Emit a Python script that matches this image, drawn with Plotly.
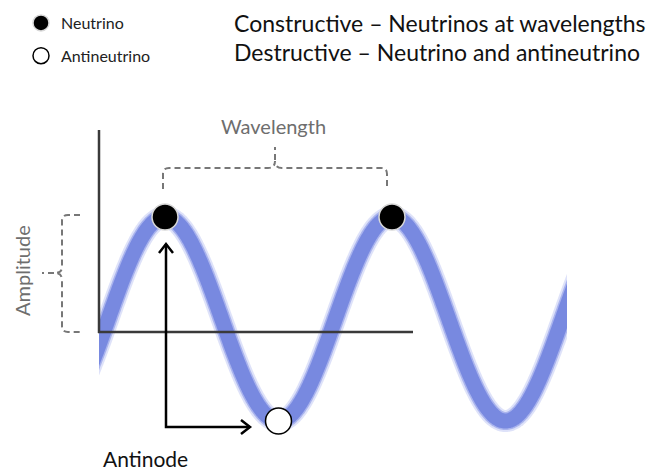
import numpy as np
import plotly.graph_objects as go

# ---------------- data (phase in radians, displacement in amplitude units)
amplitude = 1.0
wave_phase = np.linspace(-0.8, 13.4, 700)
wave_disp = amplitude * np.sin(wave_phase)
neutrino_phase = [np.pi / 2, 5 * np.pi / 2]
antineutrino_phase = [3 * np.pi / 2]
neutrino_disp = [amplitude * np.sin(p) for p in neutrino_phase]
antineutrino_disp = [amplitude * np.sin(p) for p in antineutrino_phase]
legend_labels = ["Neutrino", "Antineutrino"]
header_lines = ["Constructive – Neutrinos at wavelengths",
                "Destructive – Neutrino and antineutrino"]
label_wavelength = "Wavelength"
label_amplitude = "Amplitude"
label_antinode = "Antinode"

# ---------------- layout geometry (canvas pixels)
W, H = 654, 470
PEAK_PX, LAMBDA_PX = 165, 227
MID_PY, AMP_PX = 319, 102
WAVE_LEFT, WAVE_RIGHT = 99, 567


def phase_at(px):
    return np.pi / 2 + (px - PEAK_PX) * 2 * np.pi / LAMBDA_PX


def disp_at(py):
    return (MID_PY - py) / AMP_PX


def path(*segments):
    out = []
    for seg in segments:
        cmd, pts = seg[0], seg[1:]
        out.append(cmd + " " + " ".join(f"{x},{y}" for x, y in pts))
    return " ".join(out)


fig = go.Figure()

# blurred thick wave
for width, color in [(22, "rgba(160,172,238,0.35)"),
                     (18, "rgba(135,150,230,0.6)"),
                     (15, "rgb(120,137,224)")]:
    fig.add_trace(go.Scatter(x=wave_phase, y=wave_disp, mode="lines",
                             line=dict(color=color, width=width, shape="spline"),
                             xaxis="x2", yaxis="y2", hoverinfo="skip",
                             showlegend=False))

fig.add_trace(go.Scatter(x=neutrino_phase, y=neutrino_disp, mode="markers",
                         name=legend_labels[0], legendgroup="n",
                         marker=dict(size=26, color="black",
                                     line=dict(color="#d8d8d8", width=1.5)),
                         xaxis="x2", yaxis="y2"))
fig.add_trace(go.Scatter(x=antineutrino_phase, y=antineutrino_disp, mode="markers",
                         name=legend_labels[1], legendgroup="a",
                         marker=dict(size=26, color="white",
                                     line=dict(color="black", width=1.5)),
                         xaxis="x2", yaxis="y2"))

axis_col = "#3a3a3a"
gray = "#777777"
shapes = [
    # diagram axes
    dict(type="line", x0=99, y0=130, x1=99, y1=333,
         line=dict(color=axis_col, width=2.5)),
    dict(type="line", x0=98, y0=332, x1=413, y1=332,
         line=dict(color=axis_col, width=2.5)),
    # wavelength bracket
    dict(type="path", path=path(("M", (163, 189)), ("L", (163, 174)),
                                ("Q", (163, 168), (169, 168)), ("L", (268, 168)),
                                ("Q", (275, 168), (275, 161)),
                                ("Q", (275, 168), (282, 168)), ("L", (381, 168)),
                                ("Q", (387, 168), (387, 174)), ("L", (387, 189)),
                                ("M", (275, 160)), ("L", (275, 147))),
         line=dict(color=gray, width=2, dash="6px,4px")),
    # amplitude bracket
    dict(type="path", path=path(("M", (80, 215)), ("L", (68, 215)),
                                ("Q", (62, 215), (62, 221)), ("L", (62, 267)),
                                ("Q", (62, 273), (55, 273)),
                                ("Q", (62, 273), (62, 280)), ("L", (62, 326)),
                                ("Q", (62, 332), (68, 332)), ("L", (80, 332)),
                                ("M", (54, 273)), ("L", (42, 273))),
         line=dict(color=gray, width=2, dash="6px,4px")),
    # antinode arrows
    dict(type="path", path=path(("M", (166, 244)), ("L", (166, 427)), ("L", (250, 427))),
         line=dict(color="black", width=2.5)),
    dict(type="path", path=path(("M", (159, 253)), ("L", (166, 244)), ("L", (173, 253))),
         line=dict(color="black", width=2.5)),
    dict(type="path", path=path(("M", (241, 420)), ("L", (250, 427)), ("L", (241, 434))),
         line=dict(color="black", width=2.5)),
]
for s in shapes:
    s.update(xref="x", yref="y", layer="above")

font = "Lato, 'Open Sans', sans-serif"
annotations = [
    dict(x=232, y=23, text=header_lines[0], xanchor="left", yanchor="middle",
         font=dict(size=23, color="#111", family=font)),
    dict(x=232, y=52, text=header_lines[1], xanchor="left", yanchor="middle",
         font=dict(size=23, color="#111", family=font)),
    dict(x=273, y=126, text=label_wavelength, xanchor="center", yanchor="middle",
         font=dict(size=20, color="#6e6e6e", family=font)),
    dict(x=22, y=271, text=label_amplitude, textangle=-90, xanchor="center",
         yanchor="middle", font=dict(size=20, color="#6e6e6e", family=font)),
    dict(x=101, y=458, text=label_antinode, xanchor="left", yanchor="middle",
         font=dict(size=21, color="#111", family=font)),
]
for a in annotations:
    a.update(xref="x", yref="y", showarrow=False)

fig.update_layout(
    width=W, height=H, margin=dict(l=0, r=0, t=0, b=0),
    paper_bgcolor="white", plot_bgcolor="rgba(0,0,0,0)",
    shapes=shapes, annotations=annotations,
    showlegend=True,
    legend=dict(x=21 / W, y=1 - 6 / H, xanchor="left", yanchor="top",
                font=dict(size=16, color="#222", family=font),
                tracegroupgap=9, itemsizing="trace", bgcolor="rgba(0,0,0,0)"),
    xaxis=dict(range=[0, W], visible=False, domain=[0, 1], fixedrange=True),
    yaxis=dict(range=[H, 0], visible=False, domain=[0, 1], fixedrange=True),
    xaxis2=dict(range=[phase_at(WAVE_LEFT), phase_at(WAVE_RIGHT)],
                domain=[WAVE_LEFT / W, WAVE_RIGHT / W], anchor="y2",
                visible=False, fixedrange=True),
    yaxis2=dict(range=[disp_at(H), disp_at(0)], domain=[0, 1], anchor="x2",
                visible=False, fixedrange=True),
)

fig.write_html("out.html", config={"displayModeBar": False},
               post_script="document.body.style.margin='0';")
